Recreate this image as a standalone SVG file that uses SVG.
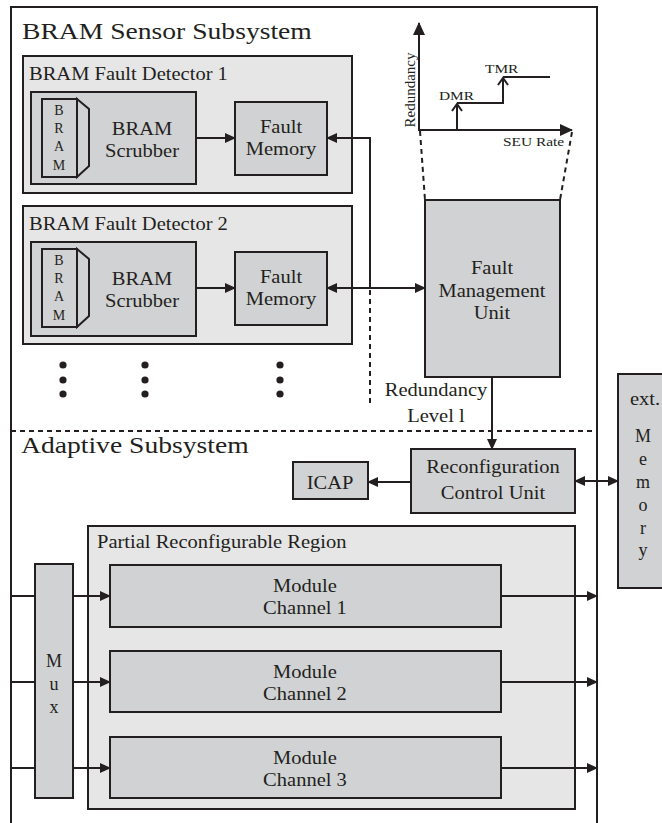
<svg xmlns="http://www.w3.org/2000/svg" width="662" height="823" viewBox="0 0 662 823">
<style>
text{font-family:"Liberation Serif","Times New Roman",serif;fill:#231f20}
.t24{font-size:24px}
.t18{font-size:18px}
.t14{font-size:14px}
.t13{font-size:13.5px}
.c{text-anchor:middle}
.outer{fill:#e6e6e6;stroke:#231f20;stroke-width:2}
.box{fill:#d1d2d3;stroke:#231f20;stroke-width:2}
.ln{fill:none;stroke:#231f20;stroke-width:2}
.dash{fill:none;stroke:#231f20;stroke-width:2;stroke-dasharray:5 4}
.arr{marker-end:url(#ah)}
.dbl{marker-end:url(#ah);marker-start:url(#ah)}
</style>
<defs>
<marker id="ah" markerUnits="userSpaceOnUse" markerWidth="11" markerHeight="10" refX="10" refY="5" orient="auto-start-reverse" viewBox="0 0 11 10">
<path d="M0,0 L11,5 L0,10 Z" fill="#231f20"/>
</marker>
<marker id="axh" markerUnits="userSpaceOnUse" markerWidth="13" markerHeight="12" refX="12" refY="6" orient="auto" viewBox="0 0 13 12">
<path d="M0,0 L13,6 L0,12 Z" fill="#231f20"/>
</marker>
<marker id="chev" markerUnits="userSpaceOnUse" markerWidth="10" markerHeight="12" refX="8" refY="6" orient="auto" viewBox="0 0 10 12">
<path d="M1,1 L8,6 L1,11" fill="none" stroke="#231f20" stroke-width="2"/>
</marker>
</defs>

<g id="sensor-subsystem">
<path class="ln" d="M11,823 V7 H597 V823"/>
<text class="t24" transform="translate(22,39) scale(1.15,1)">BRAM Sensor Subsystem</text>
</g>

<g id="fault-detector-1">
<rect class="outer" x="23" y="56" width="329" height="137"/>
<text class="t18" transform="translate(29,80) scale(1.14,1)">BRAM Fault Detector 1</text>
<g id="scrubber-1">
<rect class="box" x="31" y="92" width="165" height="92"/>
<rect class="box" x="42" y="99" width="35" height="78"/>
<path class="box" d="M77,99 L89,109 L89,166 L77,177 Z"/>
<text class="t14 c" x="59" y="115">B</text>
<text class="t14 c" x="59" y="133">R</text>
<text class="t14 c" x="59" y="151">A</text>
<text class="t14 c" x="59" y="170">M</text>
<text class="t18 c" transform="translate(142,135) scale(1.14,1)">BRAM</text>
<text class="t18 c" transform="translate(142,157) scale(1.14,1)">Scrubber</text>
</g>
<g id="fault-memory-1">
<rect class="box" x="235" y="102" width="92" height="73"/>
<text class="t18 c" transform="translate(281,133) scale(1.14,1)">Fault</text>
<text class="t18 c" transform="translate(281,155) scale(1.14,1)">Memory</text>
</g>
</g>

<g id="fault-detector-2">
<rect class="outer" x="23" y="206" width="329" height="138"/>
<text class="t18" transform="translate(29,230) scale(1.14,1)">BRAM Fault Detector 2</text>
<g id="scrubber-2">
<rect class="box" x="31" y="242" width="165" height="94"/>
<rect class="box" x="42" y="249" width="35" height="78"/>
<path class="box" d="M77,249 L89,259 L89,316 L77,327 Z"/>
<text class="t14 c" x="59" y="265">B</text>
<text class="t14 c" x="59" y="283">R</text>
<text class="t14 c" x="59" y="301">A</text>
<text class="t14 c" x="59" y="320">M</text>
<text class="t18 c" transform="translate(142,285) scale(1.14,1)">BRAM</text>
<text class="t18 c" transform="translate(142,307) scale(1.14,1)">Scrubber</text>
</g>
<g id="fault-memory-2">
<rect class="box" x="235" y="252" width="92" height="73"/>
<text class="t18 c" transform="translate(281,283) scale(1.14,1)">Fault</text>
<text class="t18 c" transform="translate(281,305) scale(1.14,1)">Memory</text>
</g>
</g>

<g id="ellipsis" fill="#231f20">
<circle cx="63" cy="365" r="3.6"/><circle cx="63" cy="380" r="3.6"/><circle cx="63" cy="394" r="3.6"/>
<circle cx="145" cy="365" r="3.6"/><circle cx="145" cy="380" r="3.6"/><circle cx="145" cy="394" r="3.6"/>
<circle cx="280" cy="365" r="3.6"/><circle cx="280" cy="380" r="3.6"/><circle cx="280" cy="394" r="3.6"/>
</g>

<g id="seu-graph">
<line class="ln" x1="419" y1="131" x2="419" y2="23" marker-end="url(#axh)"/>
<line class="ln" x1="418" y1="130" x2="572" y2="130" marker-end="url(#axh)"/>
<line class="ln" x1="457" y1="130" x2="457" y2="104" marker-end="url(#chev)"/>
<polyline class="ln" points="457,103 503,103 503,78" marker-end="url(#chev)"/>
<line class="ln" x1="503" y1="77" x2="550" y2="77"/>
<text class="t13" transform="translate(439,100) scale(1.14,1)">DMR</text>
<text class="t13" transform="translate(485,73) scale(1.14,1)">TMR</text>
<text class="t13" transform="translate(503,146) scale(1.14,1)">SEU Rate</text>
<text class="t14 c" transform="translate(415,90) rotate(-90)" style="font-size:15px">Redundancy</text>
<line class="dash" x1="420" y1="131" x2="425" y2="200"/>
<line class="dash" x1="572" y1="132" x2="560" y2="200"/>
</g>

<g id="fault-management-unit">
<rect class="box" x="425" y="200" width="135" height="177"/>
<text class="t18 c" transform="translate(492,274) scale(1.14,1)">Fault</text>
<text class="t18 c" transform="translate(492,297) scale(1.14,1)">Management</text>
<text class="t18 c" transform="translate(492,319) scale(1.14,1)">Unit</text>
</g>

<g id="separator">
<line class="dash" x1="11" y1="431" x2="597" y2="431"/>
<text class="t24" transform="translate(21,453) scale(1.15,1)">Adaptive Subsystem</text>
</g>

<g id="icap">
<rect class="box" x="293" y="462" width="75" height="37"/>
<text class="t18 c" transform="translate(330,489) scale(1.14,1)">ICAP</text>
</g>

<g id="reconfiguration-control-unit">
<rect class="box" x="411" y="449" width="164" height="64"/>
<text class="t18 c" transform="translate(493,473) scale(1.14,1)">Reconfiguration</text>
<text class="t18 c" transform="translate(493,499) scale(1.14,1)">Control Unit</text>
</g>

<g id="ext-memory">
<rect class="box" x="618" y="374" width="60" height="214"/>
<text class="t18 c" transform="translate(645,405) scale(1.14,1)">ext.</text>
<text class="t18 c" x="643" y="442">M</text>
<text class="t18 c" x="643" y="465">e</text>
<text class="t18 c" x="643" y="488">m</text>
<text class="t18 c" x="643" y="511">o</text>
<text class="t18 c" x="643" y="534">r</text>
<text class="t18 c" x="643" y="556">y</text>
</g>

<g id="mux">
<rect class="box" x="35" y="564" width="38" height="234"/>
<text class="t18 c" x="54" y="667">M</text>
<text class="t18 c" x="54" y="690">u</text>
<text class="t18 c" x="54" y="713">x</text>
</g>

<g id="partial-reconfigurable-region">
<rect class="outer" x="88" y="526" width="487" height="283"/>
<text class="t18" transform="translate(97,548) scale(1.14,1)">Partial Reconfigurable Region</text>
</g>

<g id="module-channel-1">
<rect class="box" x="110" y="565" width="391" height="62"/>
<text class="t18 c" transform="translate(305,592) scale(1.14,1)">Module</text>
<text class="t18 c" transform="translate(305,614) scale(1.14,1)">Channel 1</text>
</g>
<g id="module-channel-2">
<rect class="box" x="110" y="651" width="391" height="61"/>
<text class="t18 c" transform="translate(305,678) scale(1.14,1)">Module</text>
<text class="t18 c" transform="translate(305,700) scale(1.14,1)">Channel 2</text>
</g>
<g id="module-channel-3">
<rect class="box" x="110" y="737" width="391" height="61"/>
<text class="t18 c" transform="translate(305,764) scale(1.14,1)">Module</text>
<text class="t18 c" transform="translate(305,786) scale(1.14,1)">Channel 3</text>
</g>

<g id="connectors">
<line class="ln arr" x1="196" y1="138" x2="235" y2="138"/>
<line class="ln arr" x1="196" y1="288" x2="235" y2="288"/>
<polyline class="ln arr" points="370,288 370,138 327,138"/>
<line class="dash" x1="370" y1="290" x2="370" y2="403"/>
<line class="ln dbl" x1="327" y1="288" x2="425" y2="288"/>
<line class="ln arr" x1="492" y1="377" x2="492" y2="449"/>
<text class="t18 c" transform="translate(436,396) scale(1.14,1)">Redundancy</text>
<text class="t18 c" transform="translate(436,422) scale(1.14,1)">Level l</text>
<line class="ln arr" x1="411" y1="482" x2="368" y2="482"/>
<line class="ln dbl" x1="575" y1="481" x2="618" y2="481"/>
<line class="ln" x1="11" y1="596" x2="35" y2="596"/>
<line class="ln" x1="11" y1="682" x2="35" y2="682"/>
<line class="ln" x1="11" y1="768" x2="35" y2="768"/>
<line class="ln arr" x1="73" y1="596" x2="110" y2="596"/>
<line class="ln arr" x1="73" y1="682" x2="110" y2="682"/>
<line class="ln arr" x1="73" y1="768" x2="110" y2="768"/>
<line class="ln arr" x1="501" y1="596" x2="597" y2="596"/>
<line class="ln arr" x1="501" y1="682" x2="597" y2="682"/>
<line class="ln arr" x1="501" y1="768" x2="597" y2="768"/>
</g>
</svg>
